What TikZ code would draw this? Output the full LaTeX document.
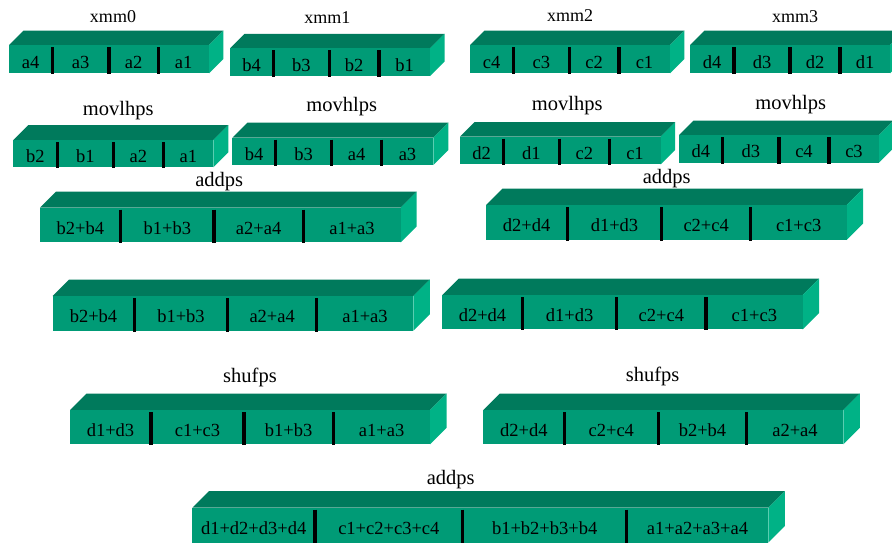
\documentclass[tikz,border=0pt]{standalone}
\usepackage{fontspec}
\setmainfont{Liberation Serif}
\usepackage{tikz}
\usetikzlibrary{calc}

\definecolor{regfront}{RGB}{0,155,118}
\definecolor{regtop}{RGB}{0,122,92}
\definecolor{regside}{RGB}{0,178,134}

% #1 name, #2 left, #3 top, #4 right, #5 bottom, #6 depth, #7 cells (right edge/text)
\newcommand{\regbox}[7]{%
  \fill[topface] (#2,#3) -- (#2+#6,#3-#6) -- (#4+#6,#3-#6) -- (#4,#3) -- cycle;
  \fill[sideface] (#4,#3) -- (#4+#6,#3-#6) -- (#4+#6,#5-#6) -- (#4,#5) -- cycle;
  \fill[frontface] (#2,#3) rectangle (#4,#5);
  \foreach \x/\t [count=\i, remember=\x as \lastx (initially #2)] in {#7} {
    \node[cell] (#1-\i) at ({(\lastx+\x)/2},{(#3+#5)/2+9}) {\t};
    \ifnum\i>1 \draw[divider] (\lastx,#3+2) -- (\lastx,#5+1); \fi
  }%
}

\begin{document}
\begin{tikzpicture}[
  x=1pt, y=-1pt,
  frontface/.style={fill=regfront},
  topface/.style={fill=regtop},
  sideface/.style={fill=regside},
  divider/.style={draw=black, line width=3.2pt},
  cell/.style={anchor=base, inner sep=0pt, font=\fontsize{18.5}{20}\selectfont},
  reglbl/.style={anchor=base, inner sep=0pt, font=\fontsize{18}{20}\selectfont},
  oplbl/.style={anchor=base, inner sep=0pt, font=\fontsize{20.5}{22}\selectfont},
]
\useasboundingbox (0,0) rectangle (892,542);

% source registers
\regbox{xa}{9}{45}{209}{73.3}{14.3}{52.3/a4,109/a3,158.3/a2,209/a1}
\regbox{xb}{230}{48.3}{430}{76}{14.5}{273.3/b4,329.3/b3,379/b2,430/b1}
\regbox{xc}{470}{45}{670}{73.3}{14.3}{513.3/c4,569.3/c3,619/c2,670/c1}
\regbox{xd}{690}{45}{890}{73.3}{14.3}{734/d4,790/d3,840/d2,890/d1}
\node[reglbl] (lxa) at (113,22.7) {xmm0};
\node[reglbl] (lxb) at (327.3,23.3) {xmm1};
\node[reglbl] (lxc) at (570,21.7) {xmm2};
\node[reglbl] (lxd) at (795,22.3) {xmm3};

% movlhps / movhlps
\regbox{ma}{13.3}{140}{213.3}{167.3}{15}{57.3/b2,113.3/b1,163.3/a2,213.3/a1}
\regbox{mb}{232.3}{137.7}{433.3}{165}{15}{275.7/b4,331.7/b3,381.7/a4,433.3/a3}
\regbox{mc}{460}{136.7}{660.7}{164.3}{14.5}{503.3/d2,559.3/d1,609.3/c2,660.7/c1}
\regbox{md}{679}{135}{879}{162.7}{14.5}{722.7/d4,779/d3,829/c4,879/c3}
\node[oplbl] (lma) at (118.3,115) {movlhps};
\node[oplbl] (lmb) at (341.7,111.7) {movhlps};
\node[oplbl] (lmc) at (567.3,110.7) {movlhps};
\node[oplbl] (lmd) at (790.7,109) {movhlps};

% first addps
\regbox{aa}{40}{207.7}{400.7}{242.3}{16}{120.7/b2+b4,214/b1+b3,303.3/a2+a4,400.7/a1+a3}
\regbox{ab}{486}{205}{846.7}{240}{16.5}{567.3/d2+d4,661.7/d1+d3,750.7/c2+c4,846.7/c1+c3}
\node[oplbl] (laa) at (219.3,186.7) {addps};
\node[oplbl] (lab) at (666.7,183.3) {addps};

% copies
\regbox{ca}{52.7}{296}{413.3}{330.7}{16.5}{134.3/b2+b4,227.7/b1+b3,316.7/a2+a4,413.3/a1+a3}
\regbox{cb}{442.3}{295}{802.7}{329.3}{16.5}{522.7/d2+d4,616.7/d1+d3,706/c2+c4,802.7/c1+c3}

% shufps
\regbox{sa}{70}{410}{430}{444.3}{16.5}{151/d1+d3,244/c1+c3,333.3/b1+b3,430/a1+a3}
\regbox{sb}{483.3}{410}{843.3}{444.3}{16.5}{564.3/d2+d4,658.3/c2+c4,746.7/b2+b4,843.3/a2+a4}
\node[oplbl] (lsa) at (250,382.3) {shufps};
\node[oplbl] (lsb) at (652.7,381.7) {shufps};

% final addps
\regbox{fa}{192.3}{507.7}{768.3}{542.5}{16.5}{315/d1+d2+d3+d4,462.7/c1+c2+c3+c4,626.7/b1+b2+b3+b4,768.3/a1+a2+a3+a4}
\node[oplbl] (lfa) at (450.7,484) {addps};

\end{tikzpicture}
\end{document}
